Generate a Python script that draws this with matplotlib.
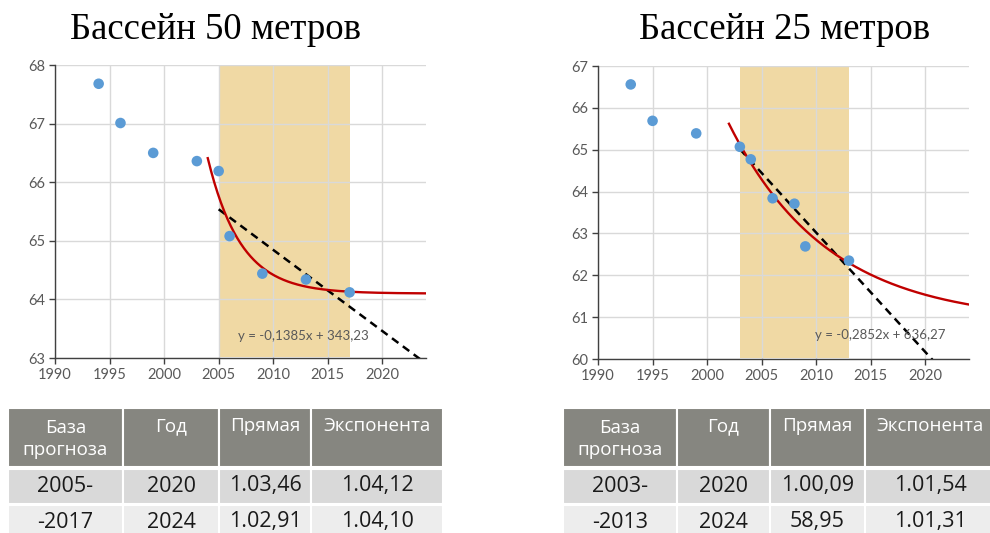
import matplotlib

matplotlib.use("Agg")
import numpy as np
import matplotlib.pyplot as plt
from matplotlib.patches import Rectangle

# 50 m pool: winning times, seconds
years_50 = [1994, 1996, 1999, 2003, 2005, 2006, 2009, 2013, 2017]
times_50 = [67.68, 67.01, 66.50, 66.36, 66.19, 65.08, 64.44, 64.34, 64.12]
base_50 = (2005, 2017)
lin_50 = (-0.1385, 343.23)          # slope, intercept
exp_50 = (64.10, 2.31, 0.33, 2004)  # asymptote, amplitude, rate, start year

# 25 m pool
years_25 = [1993, 1995, 1999, 2003, 2004, 2006, 2008, 2009, 2013]
times_25 = [66.56, 65.69, 65.39, 65.07, 64.77, 63.84, 63.71, 62.69, 62.35]
base_25 = (2003, 2013)
lin_25 = (-0.2852, 636.27)
exp_25 = (60.88, 4.74, 0.11, 2002)

titles = ["Бассейн 50 метров", "Бассейн 25 метров"]
eq_labels = ["y = -0,1385x + 343,23", "y = -0,2852x + 636,27"]

table_header = ["База\nпрогноза", "Год", "Прямая", "Экспонента"]
table_50 = [["2005-", "2020", "1.03,46", "1.04,12"],
            ["-2017", "2024", "1.02,91", "1.04,10"]]
table_25 = [["2003-", "2020", "1.00,09", "1.01,54"],
            ["-2013", "2024", "58,95", "1.01,31"]]

W, H = 990, 533
fig = plt.figure(figsize=(W / 100, H / 100), dpi=100)

TICK_FONT = ["Lato", "DejaVu Sans"]
TABLE_FONT = ["Open Sans", "DejaVu Sans"]


def px_axes(left, top, right, bottom):
    return fig.add_axes([left / W, 1 - bottom / H, (right - left) / W, (bottom - top) / H])


def draw_chart(ax, years, times, base, lin, expo, ylim, eq_label, eq_xy):
    ax.set_xlim(1990, 2024)
    ax.set_ylim(*ylim)
    ax.set_axisbelow(True)
    ax.grid(True, color="#d9d9d9", linewidth=1.0)
    ax.axvspan(base[0], base[1], ymin=0.004, ymax=0.997, color="#f0d9a4",
               linewidth=0, zorder=0.3)

    x_lin = np.linspace(base[0], 2024, 100)
    ax.plot(x_lin, lin[0] * x_lin + lin[1], color="black", linewidth=1.8,
            dashes=(3.2, 2.2), zorder=3)

    c, a, k, x0 = expo
    x_exp = np.linspace(x0, 2024, 200)
    ax.plot(x_exp, c + a * np.exp(-k * (x_exp - x0)), color="#c00000",
            linewidth=1.7, zorder=3)

    ax.scatter(years, times, s=58, color="#5b9bd5", edgecolors="none", zorder=4,
               clip_on=False)

    ax.text(eq_xy[0], eq_xy[1], eq_label, fontsize=9.5, color="#595959",
            family=TICK_FONT, zorder=5)

    ax.set_xticks(range(1990, 2025, 5))
    ax.set_yticks(range(ylim[0], ylim[1] + 1))
    for side in ("top", "right"):
        ax.spines[side].set_visible(False)
    for side in ("left", "bottom"):
        ax.spines[side].set_color("#404040")
        ax.spines[side].set_linewidth(1.0)
    ax.tick_params(length=4, width=1.0, color="#404040", labelcolor="#595959",
                   labelsize=10.5, pad=3)
    for lbl in ax.get_xticklabels() + ax.get_yticklabels():
        lbl.set_family(TICK_FONT)


ax1 = px_axes(55, 65, 426, 358)
draw_chart(ax1, years_50, times_50, base_50, lin_50, exp_50, (63, 68),
           eq_labels[0], (2006.8, 63.3))
ax2 = px_axes(598, 66, 969, 359)
draw_chart(ax2, years_25, times_25, base_25, lin_25, exp_25, (60, 67),
           eq_labels[1], (2009.9, 60.48))

for cx, title in zip((216, 785), titles):
    fig.text(cx / W, 1 - 30 / H, title, ha="center", va="center", fontsize=26.5,
             family=["Liberation Serif", "DejaVu Serif"], color="black")

# forecast tables, laid out in pixel coordinates
overlay = fig.add_axes([0, 0, 1, 1])
overlay.set_xlim(0, W)
overlay.set_ylim(H, 0)
overlay.axis("off")


def draw_table(col_edges, rows):
    header_top, header_bottom = 408, 467
    row_edges = [(469, 504), (505, 545)]
    row_colors = ["#d9d9d9", "#ededed"]
    for i, label in enumerate(table_header):
        x0, x1 = col_edges[i], col_edges[i + 1]
        xc = (x0 + x1) / 2
        overlay.add_patch(Rectangle((x0, header_top), x1 - x0, header_bottom - header_top,
                                    facecolor="#868680", edgecolor="white", linewidth=1.5))
        if "\n" in label:
            overlay.text(xc, header_top + 31, label, ha="center", va="center",
                         fontsize=13.5, color="white", family=TABLE_FONT, linespacing=1.3)
        else:
            overlay.text(xc, header_top + 18, label, ha="center", va="center",
                         fontsize=13.5, color="white", family=TABLE_FONT)
        for (y0, y1), color, row in zip(row_edges, row_colors, rows):
            overlay.add_patch(Rectangle((x0, y0), x1 - x0, y1 - y0, facecolor=color,
                                        edgecolor="white", linewidth=1.5))
            overlay.text(xc, y0 + 17, row[i], ha="center", va="center",
                         fontsize=15.5, color="#1a1a1a", family=TABLE_FONT)


draw_table([8, 123, 219, 311, 443], table_50)
draw_table([563, 677, 770, 865, 995], table_25)

fig.savefig("out.png", dpi=100)
